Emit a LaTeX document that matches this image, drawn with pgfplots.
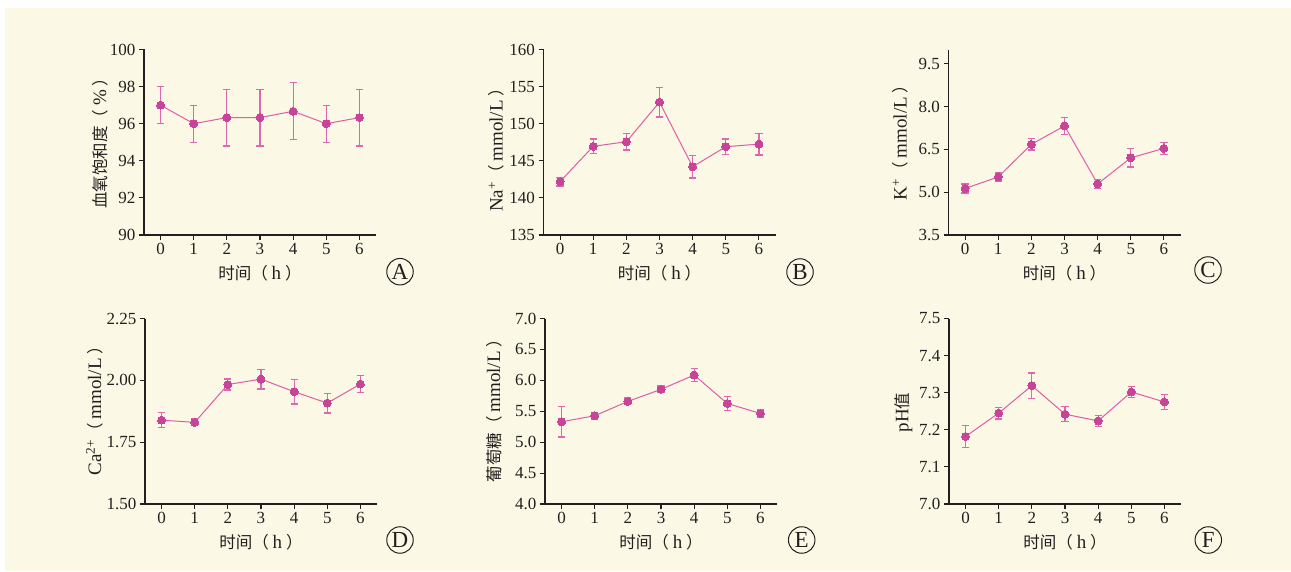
\documentclass[border=0pt]{standalone}
\usepackage{fontspec}
\setmainfont{Liberation Serif}
\newfontfamily\cjk{Noto Sans CJK SC}
\usepackage{pgfplots}
\pgfplotsset{compat=1.18}
\definecolor{cream}{RGB}{251,249,229}
\definecolor{axcol}{RGB}{35,31,32}
\definecolor{mk}{RGB}{200,68,152}
\definecolor{ln}{RGB}{224,92,170}
\definecolor{eb}{RGB}{222,104,176}
\newcommand{\tickfont}{\fontsize{17}{18}\selectfont}
\newcommand{\labfont}{\fontsize{19}{20}\selectfont}
\newcommand{\cj}[1]{{\fontsize{16.5}{18}\cjk #1}}
\newcommand{\lp}{\cj{（}\hspace{0.2em}}
\newcommand{\rp}{\hspace{0.2em}\cj{）}}
\newcommand{\xlab}{\cj{时间}\lp h\rp}
\pgfplotsset{
  panel/.style={
    width=232pt, height=185.5pt, scale only axis,
    axis lines=left,
    axis line style={-, line width=1.3pt, color=axcol},
    tick align=outside, major tick length=5pt,
    tick style={line width=1.1pt, color=axcol},
    xmin=-0.5, xmax=6.5, xtick={0,...,6},
    ticklabel style={font=\tickfont, color=axcol},
    /pgf/number format/assume math mode=true,
    clip=false,
    xlabel={\xlab},
    xlabel style={font=\labfont, color=axcol, at={(axis description cs:0.5,-0.205)}, anchor=center},
  },
  myplot/.style={color=ln, line width=1pt, mark=*, mark size=4pt,
      mark options={fill=mk, draw=mk, line width=0pt},
      error bars/y dir=both, error bars/y explicit,
      error bars/error bar style={color=eb, line width=1.2pt},
      error bars/error mark options={rotate=90, mark size=3.6pt, color=eb, line width=1.2pt}}
}
\begin{document}
\begin{tikzpicture}
\fill[white] (0pt,0pt) rectangle (1291pt,571pt);
\fill[cream] (5pt,0pt) rectangle (1291pt,563pt);

% A
\begin{axis}[panel, at={(144pt,336pt)}, anchor=south west,
  ymin=90, ymax=100, ytick={90,92,...,100},
  ylabel={\cj{血氧饱和度}\lp\%\rp},
  ylabel style={font=\labfont, color=axcol, at={(axis description cs:-0.19,0.516)}, anchor=center}]
\addplot[myplot] table[x=x,y=y,y error=e]{
x y e
0 97.0 1.0
1 96.0 1.0
2 96.33 1.53
3 96.33 1.53
4 96.67 1.53
5 96.0 1.0
6 96.33 1.53
};
\end{axis}

% B
\begin{axis}[panel, at={(543.5pt,336pt)}, anchor=south west,
  ymin=135, ymax=160, ytick={135,140,...,160},
  ylabel={Na\textsuperscript{+}\lp mmol/L\rp},
  ylabel style={font=\labfont, color=axcol, at={(axis description cs:-0.203,0.48)}, anchor=center}]
\addplot[myplot] table[x=x,y=y,y error=e]{
x y e
0 142.2 0.6
1 146.95 1.0
2 147.57 1.12
3 152.9 2.0
4 144.2 1.52
5 146.9 1.03
6 147.25 1.48
};
\end{axis}

% C
\begin{axis}[panel, at={(948.5pt,336pt)}, anchor=south west,
  ymin=3.5, ymax=10, ytick={3.5,5.0,6.5,8.0,9.5},
  yticklabel style={/pgf/number format/.cd, fixed, fixed zerofill, precision=1},
  ylabel={K\textsuperscript{+}\lp mmol/L\rp},
  ylabel style={font=\labfont, color=axcol, at={(axis description cs:-0.208,0.52)}, anchor=center}]
\addplot[myplot] table[x=x,y=y,y error=e]{
x y e
0 5.13 0.16
1 5.535 0.14
2 6.676 0.2
3 7.324 0.3
4 5.29 0.15
5 6.206 0.32
6 6.535 0.22
};
\end{axis}

% D
\begin{axis}[panel, at={(145pt,67pt)}, anchor=south west,
  ymin=1.5, ymax=2.25, ytick={1.5,1.75,2.0,2.25},
  yticklabel style={/pgf/number format/.cd, fixed, fixed zerofill, precision=2},
  ylabel={Ca\textsuperscript{2+}\lp mmol/L\rp},
  ylabel style={font=\labfont, color=axcol, at={(axis description cs:-0.218,0.525)}, anchor=center}]
\addplot[myplot] table[x=x,y=y,y error=e]{
x y e
0 1.839 0.03
1 1.830 0.014
2 1.983 0.022
3 2.005 0.04
4 1.954 0.05
5 1.908 0.04
6 1.985 0.035
};
\end{axis}

% E
\begin{axis}[panel, at={(545pt,67pt)}, anchor=south west,
  ymin=4, ymax=7, ytick={4.0,4.5,...,7.0},
  yticklabel style={/pgf/number format/.cd, fixed, fixed zerofill, precision=1},
  ylabel={\cj{葡萄糖}\lp mmol/L\rp},
  ylabel style={font=\labfont, color=axcol, at={(axis description cs:-0.22,0.525)}, anchor=center}]
\addplot[myplot] table[x=x,y=y,y error=e]{
x y e
0 5.33 0.245
1 5.427 0.056
2 5.659 0.056
3 5.854 0.054
4 6.086 0.1
5 5.625 0.115
6 5.465 0.057
};
\end{axis}

% F
\begin{axis}[panel, at={(949pt,67pt)}, anchor=south west,
  ymin=7.0, ymax=7.5, ytick={7.0,7.1,...,7.5},
  yticklabel style={/pgf/number format/.cd, fixed, fixed zerofill, precision=1},
  ylabel={pH\cj{值}},
  ylabel style={font=\labfont, color=axcol, at={(axis description cs:-0.196,0.493)}, anchor=center}]
\addplot[myplot] table[x=x,y=y,y error=e]{
x y e
0 7.182 0.03
1 7.245 0.016
2 7.319 0.034
3 7.242 0.02
4 7.224 0.015
5 7.302 0.015
6 7.275 0.02
};
\end{axis}

\foreach \px/\py/\l in {400/299.3/A,800/299/B,1208/301/C,400/31/D,801.7/31/E,1208.3/31/F}{
  \node[circle, draw=axcol, line width=1pt, minimum size=26.5pt, inner sep=0pt, font=\fontsize{23}{23}\selectfont, text=axcol] at (\px pt,\py pt) {\l};
}
\pgfresetboundingbox
\path (0pt,0pt) rectangle (1291pt,571pt);
\end{tikzpicture}
\end{document}
